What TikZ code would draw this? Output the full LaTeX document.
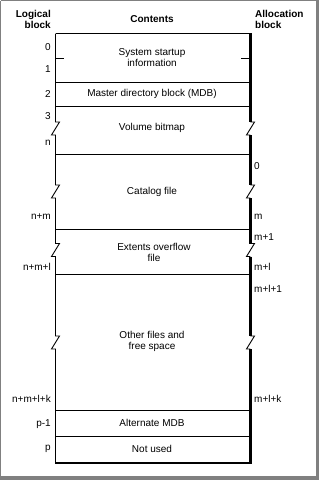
\documentclass[tikz,border=0pt]{standalone}
\usepackage{fontspec}
\setmainfont{Liberation Sans}
\usetikzlibrary{positioning}

\begin{document}
\begin{tikzpicture}[
  x=1pt,y=-1pt,
  every node/.style={inner sep=0pt,font=\fontsize{10}{11}\selectfont},
  head/.style={font=\fontsize{10}{11}\selectfont\bfseries,align=center},
  lnum/.style={anchor=east},
  anum/.style={anchor=west},
  field/.style={align=center},
  rule/.style={line width=0.9pt},
  edge/.style={line width=2.4pt},
  frame/.style={draw=gray,line width=1.4pt}
]
\useasboundingbox (0,0) rectangle (319,480);
% outer frame
\draw[frame] (0.7,0.7) -- (317.5,0.7);
\draw[frame] (0.7,0.7) -- (0.7,477.5);
\draw[draw=gray,line width=2.4pt] (317.3,0) -- (317.3,480);
\draw[draw=gray,line width=3.2pt] (0,477.9) -- (319,477.9);

% column heads
\node[head,align=right,anchor=north east] (logical) at (51,10.5) {Logical\\block};
\node[head] (contents) at (152,19) {Contents};
\node[head,align=left,anchor=north west] (alloc) at (255,10.5) {Allocation\\block};

% box: top, dividers, bottom
\draw[rule] (55.5,33.5) -- (250,33.5);
\foreach \y in {82,106,154,229,274,410,436}
  \draw[rule] (55.5,\y) -- (249,\y);
\draw[line width=1.5pt] (55,463) -- (251.5,463);
\draw[rule] (55.5,58) -- (64,58);
\draw[rule] (241,58) -- (249,58);

% left side with breaks
\draw[rule] (55.5,33.5) -- (55.5,122)
  -- (59.5,122) -- (51.5,135) -- (55.5,135) -- (55.5,185)
  -- (59.5,185) -- (51.5,198) -- (55.5,198) -- (55.5,243.5)
  -- (59.5,243.5) -- (51.5,256.5) -- (55.5,256.5) -- (55.5,336)
  -- (59.5,336) -- (51.5,349) -- (55.5,349) -- (55.5,463.5);

% right side, thick, with thin breaks
\foreach \a/\b in {33/122,135/185,198/243.5,256.5/336,349/464}
  \draw[edge] (250.3,\a) -- (250.3,\b);
\foreach \t/\u in {122/135,185/198,243.5/256.5,336/349}
  \draw[rule] (250.3,\t) -- (254.5,\t) -- (246.5,\u) -- (250.3,\u);

% contents
\node[field] (startup) at (152,58) {System startup\\information};
\node[field] (mdb) at (152,94) {Master directory block (MDB)};
\node[field] (bitmap) at (152,128) {Volume bitmap};
\node[field] (catalog) at (152,192) {Catalog file};
\node[field] (extents) at (154,252.5) {Extents overflow\\file};
\node[field] (other) at (152,341.5) {Other files and\\free space};
\node[field] (altmdb) at (152,423) {Alternate MDB};
\node[field] (unused) at (152,449) {Not used};

% logical block numbers
\foreach \txt/\y in {0/47,1/69,2/94,3/116,n/143,n+m/217,n+m+l/267,n+m+l+k/399,p-1/424,p/449}
  \node[lnum] at (51,\y) {\txt};

% allocation block numbers
\foreach \txt/\y in {0/166,m/217,m+1/237,m+l/267,m+l+1/289,m+l+k/399}
  \node[anum] at (254,\y) {\txt};
\end{tikzpicture}
\end{document}
